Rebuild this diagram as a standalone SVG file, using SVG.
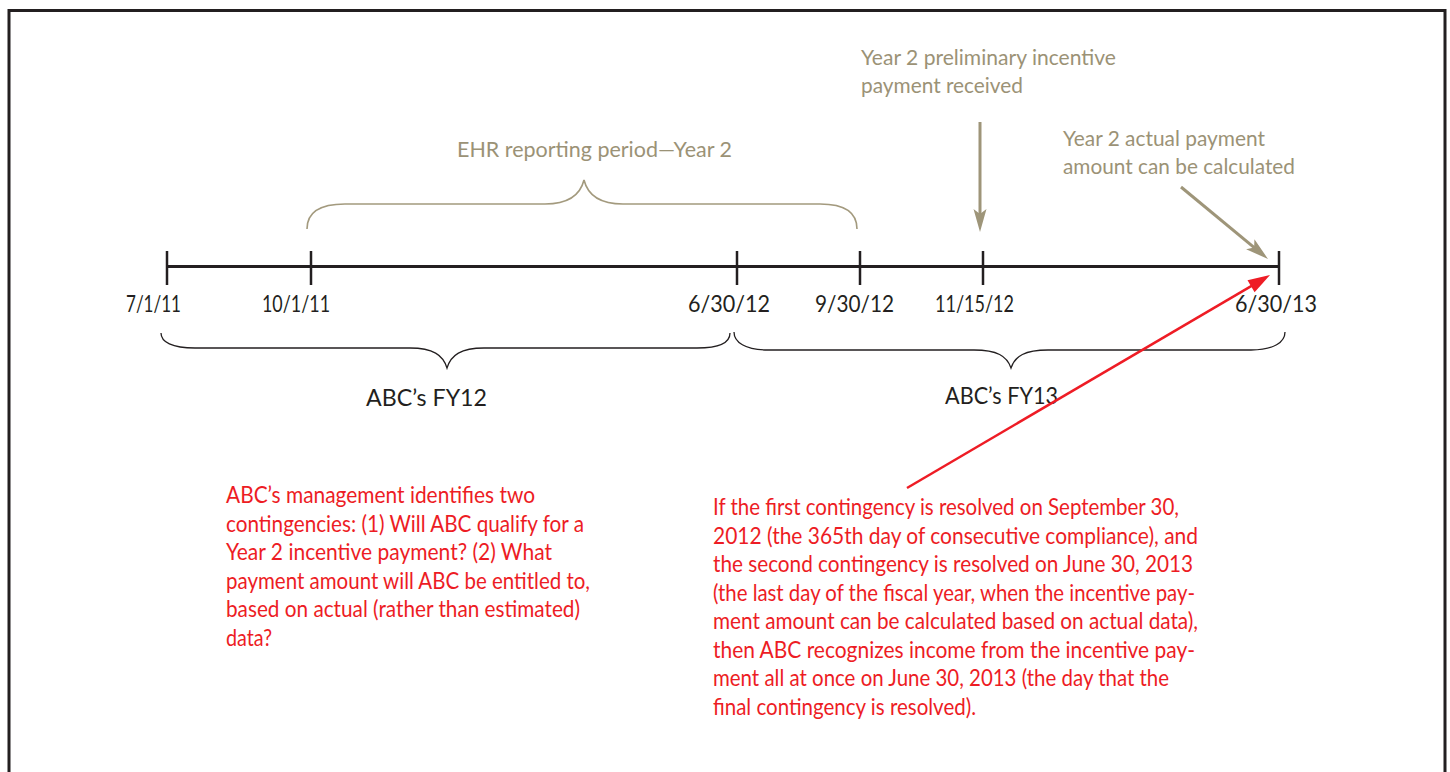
<svg xmlns="http://www.w3.org/2000/svg" width="1450" height="772" viewBox="0 0 1450 772">
<style>
text{font-family:Lato,"Open Sans","Liberation Sans",sans-serif}
.blk{fill:#231f20;font-size:24px}
.olv{fill:#9b9276;font-size:21.5px}
.red{fill:#ed1c24;font-size:23px}
.tl{stroke:#231f20;stroke-width:3;fill:none}
.tk{stroke:#231f20;stroke-width:2.5;fill:none}
.brace{stroke:#231f20;stroke-width:1.3;fill:none}
.obrace{stroke:#a39a7e;stroke-width:1.6;fill:none}
.garr{stroke:#9e9579;stroke-width:3;fill:none}
.rarr{stroke:#ee1c25;stroke-width:2.5;fill:none}
</style>
<defs>
<marker id="mg" markerUnits="userSpaceOnUse" viewBox="-26 -8 28 16" refX="-10" refY="0" markerWidth="28" markerHeight="16" orient="auto">
<path d="M0,0 L-23,-6.5 L-18,0 L-23,6.5 Z" fill="#9e9579"/>
</marker>
<marker id="mr" markerUnits="userSpaceOnUse" viewBox="-26 -8 28 16" refX="-10" refY="0" markerWidth="28" markerHeight="16" orient="auto">
<path d="M0,0 L-22,-7 L-22,7 Z" fill="#ee1c25"/>
</marker>
</defs>
<rect width="1450" height="772" fill="#ffffff"/>
<path d="M9,775 V10.5 H1445 V775" fill="none" stroke="#231f20" stroke-width="3"/>

<g id="timeline">
<line class="tl" x1="167" y1="266.5" x2="1280" y2="266.5"/>
<line class="tk" x1="167" y1="251" x2="167" y2="285"/>
<line class="tk" x1="311" y1="251" x2="311" y2="285"/>
<line class="tk" x1="737" y1="251" x2="737" y2="285"/>
<line class="tk" x1="860" y1="251" x2="860" y2="285"/>
<line class="tk" x1="983" y1="251" x2="983" y2="285"/>
<line class="tk" x1="1279" y1="251" x2="1279" y2="285"/>
</g>

<g id="date-labels">
<text class="blk" x="126" y="312" textLength="55" lengthAdjust="spacingAndGlyphs">7/1/11</text>
<text class="blk" x="262" y="312" textLength="68" lengthAdjust="spacingAndGlyphs">10/1/11</text>
<text class="blk" x="688" y="312" textLength="82" lengthAdjust="spacingAndGlyphs">6/30/12</text>
<text class="blk" x="815" y="312" textLength="79" lengthAdjust="spacingAndGlyphs">9/30/12</text>
<text class="blk" x="935" y="312" textLength="79" lengthAdjust="spacingAndGlyphs">11/15/12</text>
<text class="blk" x="1235" y="312" textLength="82" lengthAdjust="spacingAndGlyphs">6/30/13</text>
</g>

<g id="ehr-period">
<path class="obrace" d="M307,229 C307,212 320,204 345,204 L545,204 C568,204 580,196 584,180 C588,196 600,204 623,204 L820,204 C845,204 857,212 857,229"/>
<text class="olv" x="457" y="157" textLength="275" lengthAdjust="spacingAndGlyphs">EHR reporting period—Year 2</text>
</g>

<g id="fy12">
<path class="brace" d="M161,333 C161,342 172,348 195,348 L410,348 C433,348 443,355 447,368 C451,355 461,348 484,348 L697,348 C720,348 730,342 730,333"/>
<text class="blk" x="366" y="406" textLength="121" lengthAdjust="spacingAndGlyphs">ABC’s FY12</text>
</g>

<g id="fy13">
<path class="brace" d="M734,332 C734,342 745,350 768,350 L974,350 C997,350 1007,356 1011,368 C1015,356 1025,350 1048,350 L1251,350 C1274,350 1285,342 1285,332"/>
<text class="blk" x="945" y="404" textLength="113" lengthAdjust="spacingAndGlyphs">ABC’s FY13</text>
</g>

<g id="preliminary-payment">
<text class="olv" x="861" y="65" textLength="255" lengthAdjust="spacingAndGlyphs">Year 2 preliminary incentive</text>
<text class="olv" x="861" y="93" textLength="162" lengthAdjust="spacingAndGlyphs">payment received</text>
</g>

<g id="actual-payment">
<text class="olv" x="1063" y="146" textLength="202" lengthAdjust="spacingAndGlyphs">Year 2 actual payment</text>
<text class="olv" x="1063" y="174" textLength="232" lengthAdjust="spacingAndGlyphs">amount can be calculated</text>
</g>

<g id="management-note">
<text class="red" x="226" y="503" textLength="309" lengthAdjust="spacingAndGlyphs">ABC’s management identifies two</text>
<text class="red" x="226" y="531.5" textLength="358" lengthAdjust="spacingAndGlyphs">contingencies: (1) Will ABC qualify for a</text>
<text class="red" x="226" y="560" textLength="326" lengthAdjust="spacingAndGlyphs">Year 2 incentive payment? (2) What</text>
<text class="red" x="226" y="588.5" textLength="364" lengthAdjust="spacingAndGlyphs">payment amount will ABC be entitled to,</text>
<text class="red" x="226" y="617" textLength="354" lengthAdjust="spacingAndGlyphs">based on actual (rather than estimated)</text>
<text class="red" x="226" y="645.5" textLength="46" lengthAdjust="spacingAndGlyphs">data?</text>
</g>

<g id="resolution-note">
<text class="red" x="713" y="515" textLength="466" lengthAdjust="spacingAndGlyphs">If the first contingency is resolved on September 30,</text>
<text class="red" x="713" y="543.6" textLength="485" lengthAdjust="spacingAndGlyphs">2012 (the 365th day of consecutive compliance), and</text>
<text class="red" x="713" y="572.1" textLength="480" lengthAdjust="spacingAndGlyphs">the second contingency is resolved on June 30, 2013</text>
<text class="red" x="713" y="600.7" textLength="482" lengthAdjust="spacingAndGlyphs">(the last day of the fiscal year, when the incentive pay-</text>
<text class="red" x="713" y="629.3" textLength="485" lengthAdjust="spacingAndGlyphs">ment amount can be calculated based on actual data),</text>
<text class="red" x="713" y="657.9" textLength="482" lengthAdjust="spacingAndGlyphs">then ABC recognizes income from the incentive pay-</text>
<text class="red" x="713" y="686.4" textLength="456" lengthAdjust="spacingAndGlyphs">ment all at once on June 30, 2013 (the day that the</text>
<text class="red" x="713" y="715" textLength="263" lengthAdjust="spacingAndGlyphs">final contingency is resolved).</text>
</g>

<g id="connectors">
<line class="garr" x1="980" y1="122" x2="980" y2="222" marker-end="url(#mg)"/>
<line class="garr" x1="1181" y1="187" x2="1260.3" y2="252.6" marker-end="url(#mg)"/>
<line class="rarr" x1="907" y1="488" x2="1261.4" y2="280.1" marker-end="url(#mr)"/>
</g>
</svg>
